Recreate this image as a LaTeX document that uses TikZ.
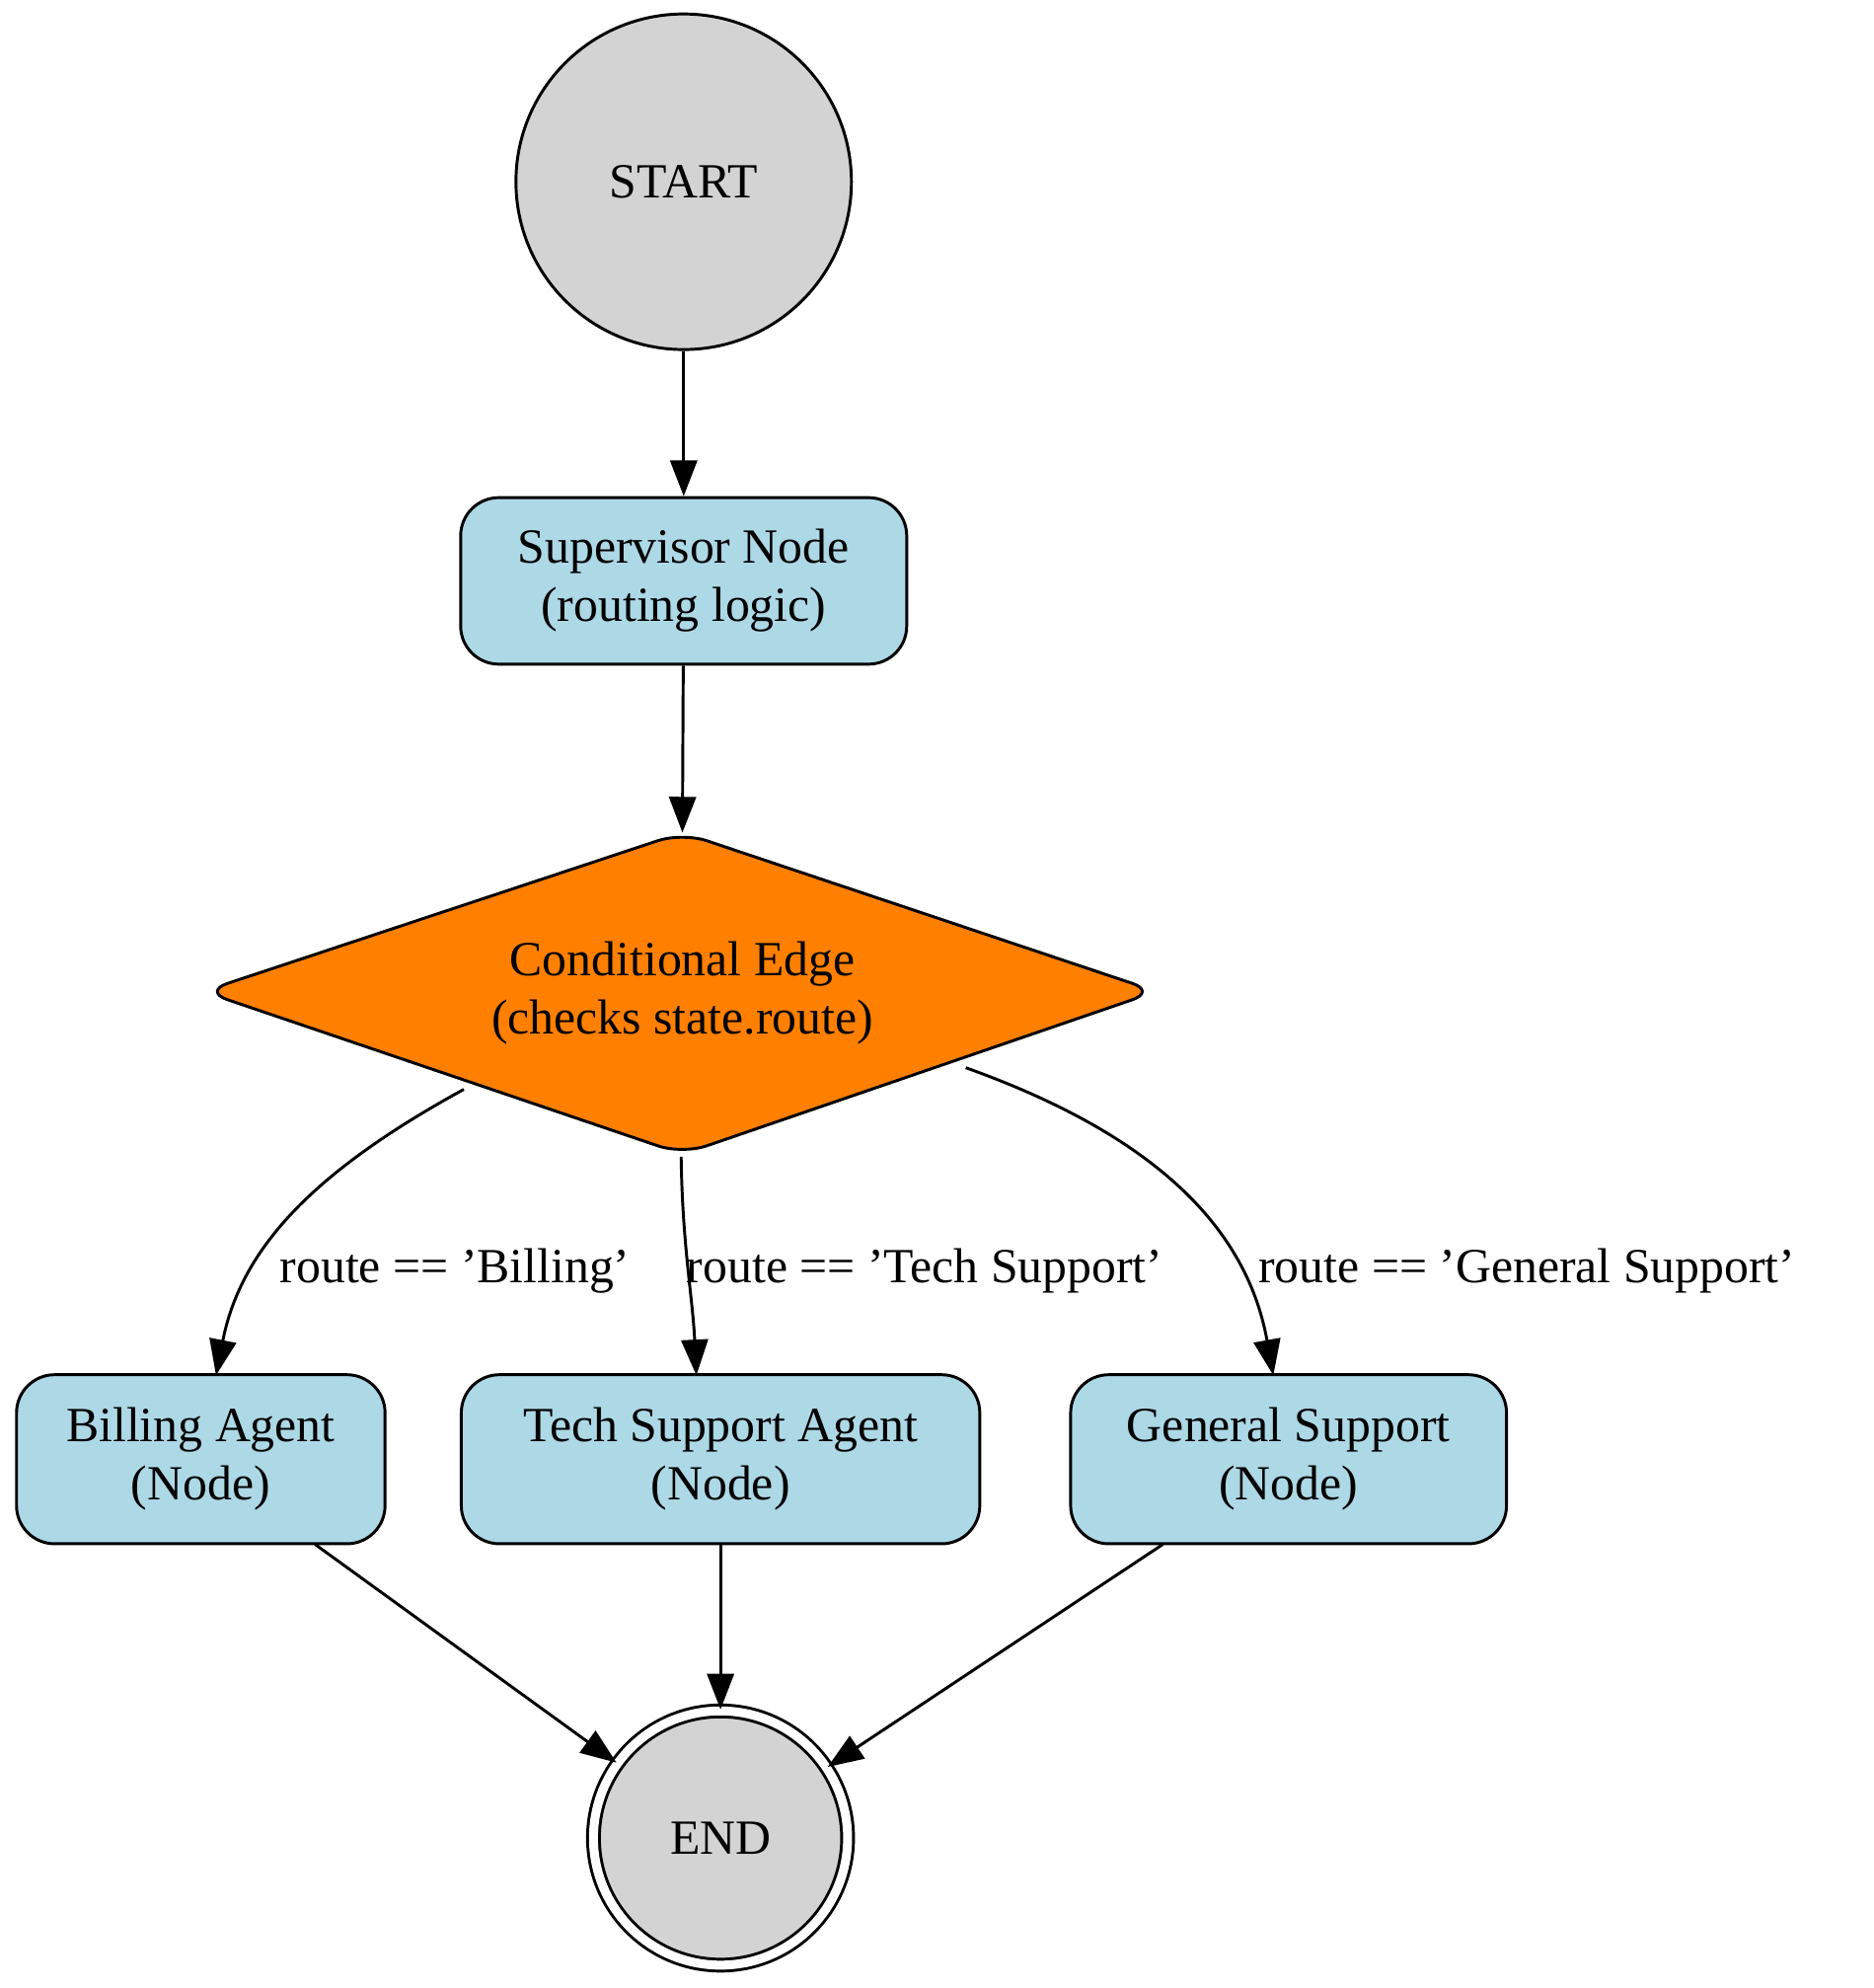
\documentclass[tikz,border=0pt]{standalone}
\usepackage{fontspec}
\setmainfont{Liberation Serif}
\usetikzlibrary{shapes.geometric,arrows.meta}
\begin{document}
\begin{tikzpicture}[x=0.02cm,y=-0.02cm,font=\fontsize{22}{26}\selectfont,
  box/.style={draw,line width=1.3pt,fill=cyan!15!blue!10!white,fill={rgb,255:red,173;green,216;blue,230},rounded corners=30*0.02cm,align=center,inner sep=0pt},
  circ/.style={draw,line width=1.3pt,circle,fill={rgb,255:red,211;green,211;blue,211},inner sep=0pt},
  e/.style={draw,line width=1.3pt,-{Triangle[length=16pt,width=12pt]}},
  lab/.style={anchor=west,inner sep=0pt}]
\useasboundingbox (0,0) rectangle (1474,1564);
\node[circ,minimum size=264*0.02cm] (start) at (538,143) {START};
\node[box,minimum width=351*0.02cm,minimum height=131*0.02cm] (sup) at (538,457) {Supervisor Node\\(routing logic)};
\draw[line width=1.3pt,fill=orange,rounded corners=20*0.02cm] (537,655) -- (910,780) -- (537,908) -- (160,780) -- cycle;
\node[align=center] (cond) at (537,781) {Conditional Edge\\(checks state.route)};
\coordinate (ctop) at (537,655); \coordinate (cl) at (365,857); \coordinate (cb) at (536,910); \coordinate (cr) at (760,840);
\node[box,minimum width=290*0.02cm,minimum height=133*0.02cm] (bill) at (158,1148) {Billing Agent\\(Node)};
\node[box,minimum width=408*0.02cm,minimum height=133*0.02cm] (tech) at (567,1148) {Tech Support Agent\\(Node)};
\node[box,minimum width=343*0.02cm,minimum height=133*0.02cm] (gen) at (1014,1148) {General Support\\(Node)};
\node[circ,double,double distance=4pt,minimum size=200*0.02cm] (end) at (567,1446) {END};
\draw[e] (start) -- (sup);
\draw[e] (sup) -- (ctop);
\draw[e] (cl) .. controls (250,920) and (190,980) .. (170,1082);
\draw[e] (cb) .. controls (537,980) and (545,1020) .. (548,1082);
\draw[e] (cr) .. controls (900,890) and (980,960) .. (1002,1082);
\node[lab] (l1) at (220,1000) {route == 'Billing'};
\node[lab] (l2) at (540,1000) {route == 'Tech Support'};
\node[lab] (l3) at (990,1000) {route == 'General Support'};
\draw[e] (248,1215) -- (end);
\draw[e] (tech) -- (end);
\draw[e] (915,1215) -- (end);
\end{tikzpicture}
\end{document}
